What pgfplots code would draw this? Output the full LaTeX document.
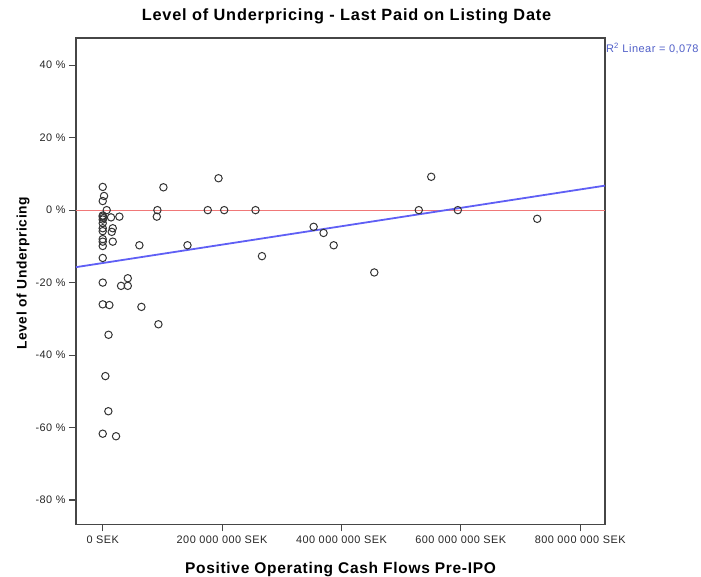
\documentclass[border=0pt]{standalone}
\usepackage{pgfplots}
\pgfplotsset{compat=1.18}
\usepackage{fontspec}
\setmainfont{Liberation Sans}[LetterSpace=4.5]
\definecolor{fitblue}{RGB}{95,95,245}
\definecolor{refred}{RGB}{240,120,120}
\definecolor{framegray}{RGB}{70,70,70}
\definecolor{rtext}{RGB}{80,95,200}

% IPO observations: x = positive operating cash flow (million SEK), y = underpricing (%)
\pgfplotstableread{
x y
0 6.4
2.2 3.9
0 2.5
6.7 0
0 -1.5
0 -1.8
1.0 -2.2
0 -2.6
0 -3.6
0 -5.0
0 -5.8
0 -8.0
0 -8.7
0 -9.9
13.9 -2.0
27.9 -1.8
16.8 -5.0
15.1 -6.0
16.8 -8.7
0 -13.2
0 -20.0
42 -18.8
30.7 -20.9
42 -20.9
0 -26.0
11.1 -26.2
64.8 -26.7
93.3 -31.5
9.7 -34.4
4.4 -45.8
9.4 -55.5
0 -61.7
22.3 -62.4
101.7 6.3
194 8.8
91.6 0
90.6 -1.8
176 0
203.5 0
256 0
61.4 -9.7
142 -9.7
266.8 -12.7
353.4 -4.6
370 -6.3
387 -9.7
455 -17.2
529.6 0
550.4 9.2
595 0
728 -2.4
}\ipodata

\begin{document}
\begin{tikzpicture}
\useasboundingbox (-76pt,-52.7pt) rectangle (625pt,524.3pt);
\begin{axis}[
  scale only axis,
  width=529pt, height=486.3pt,
  xmin=-44.8, xmax=841.6,
  ymin=-86.7, ymax=47.5,
  clip=false,
  axis line style={framegray, line width=1.1pt},
  tick style={framegray, line width=1.1pt},
  tick align=outside,
  tick pos=left,
  major tick length=7pt,
  xtick={0,200,400,600,800},
  xticklabels={0 SEK,200 000 000 SEK,400 000 000 SEK,600 000 000 SEK,800 000 000 SEK},
  ytick={-80,-60,-40,-20,0,20,40},
  yticklabels={-80 \%,-60 \%,-40 \%,-20 \%,0 \%,20 \%,40 \%},
  ticklabel style={font=\fontsize{10.9}{12}\selectfont, text=black!85},
  xticklabel style={yshift=-1.5pt},
  /pgf/number format/assume math mode=true,
  title={Level of Underpricing - Last Paid on Listing Date},
  title style={font=\fontsize{16.3}{18}\selectfont\bfseries\addfontfeature{LetterSpace=5},
    at={(axis description cs:0.5,1)}, anchor=base, xshift=6pt, yshift=11.3pt},
  xlabel={Positive Operating Cash Flows Pre-IPO},
  ylabel={Level of Underpricing},
  xlabel style={font=\fontsize{15.5}{17}\selectfont\bfseries,
    at={(axis description cs:0.5,0)}, anchor=base, yshift=-49.7pt},
  ylabel style={font=\fontsize{13.8}{16}\selectfont\bfseries,
    at={(axis description cs:-0.0932,0.516)}, anchor=base},
]
\addplot[refred, line width=1.1pt, forget plot] coordinates {(-44.8,0) (841.6,0)};
\addplot[fitblue, line width=1.8pt, forget plot] coordinates {(-44.8,-15.74) (841.6,6.76)};
\addplot[only marks, mark=o, mark size=3.7pt, mark options={draw=black!80, line width=1pt}] table {\ipodata};
\node[anchor=west, inner sep=0pt, xshift=1pt, text=rtext, font=\fontsize{11}{12}\selectfont] at (rel axis cs:1,0.979) {R\textsuperscript{2} Linear = 0,078};
\end{axis}
\end{tikzpicture}
\end{document}
